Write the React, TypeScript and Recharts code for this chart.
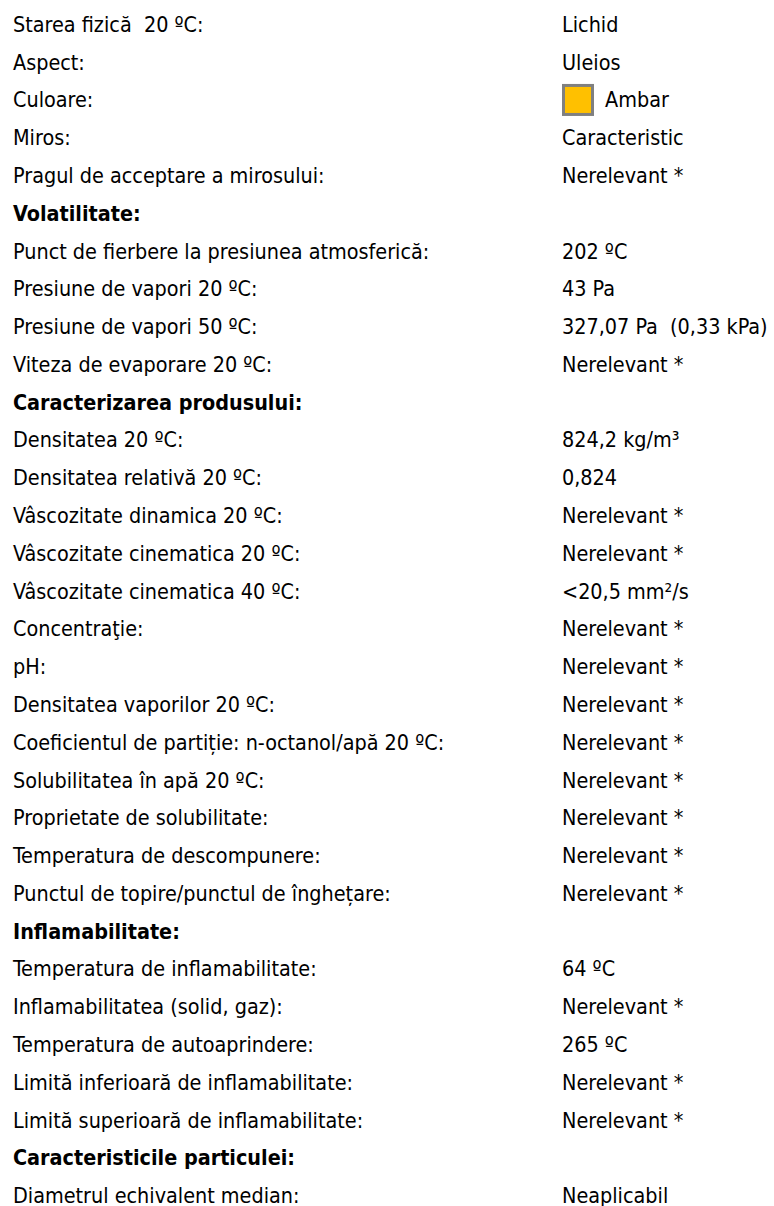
import { ComposedChart, Bar, XAxis, YAxis } from "recharts";

// properties sheet - left column labels, right column values
const labels = [
  "Starea fizică  20 ºC:",
  "Aspect:",
  "Culoare:",
  "Miros:",
  "Pragul de acceptare a mirosului:",
  "Volatilitate:",
  "Punct de fierbere la presiunea atmosferică:",
  "Presiune de vapori 20 ºC:",
  "Presiune de vapori 50 ºC:",
  "Viteza de evaporare 20 ºC:",
  "Caracterizarea produsului:",
  "Densitatea 20 ºC:",
  "Densitatea relativă 20 ºC:",
  "Vâscozitate dinamica 20 ºC:",
  "Vâscozitate cinematica 20 ºC:",
  "Vâscozitate cinematica 40 ºC:",
  "Concentraţie:",
  "pH:",
  "Densitatea vaporilor 20 ºC:",
  "Coeficientul de partiție: n-octanol/apă 20 ºC:",
  "Solubilitatea în apă 20 ºC:",
  "Proprietate de solubilitate:",
  "Temperatura de descompunere:",
  "Punctul de topire/punctul de înghețare:",
  "Inflamabilitate:",
  "Temperatura de inflamabilitate:",
  "Inflamabilitatea (solid, gaz):",
  "Temperatura de autoaprindere:",
  "Limită inferioară de inflamabilitate:",
  "Limită superioară de inflamabilitate:",
  "Caracteristicile particulei:",
  "Diametrul echivalent median:",
];

const values = [
  "Lichid",
  "Uleios",
  "Ambar",
  "Caracteristic",
  "Nerelevant *",
  "",
  "202 ºC",
  "43 Pa",
  "327,07 Pa  (0,33 kPa)",
  "Nerelevant *",
  "",
  "824,2 kg/m³",
  "0,824",
  "Nerelevant *",
  "Nerelevant *",
  "<20,5 mm²/s",
  "Nerelevant *",
  "Nerelevant *",
  "Nerelevant *",
  "Nerelevant *",
  "Nerelevant *",
  "Nerelevant *",
  "Nerelevant *",
  "Nerelevant *",
  "",
  "64 ºC",
  "Nerelevant *",
  "265 ºC",
  "Nerelevant *",
  "Nerelevant *",
  "",
  "Neaplicabil",
];

const headers = ["Volatilitate:", "Caracterizarea produsului:", "Inflamabilitate:", "Caracteristicile particulei:"];
const swatches: Record<string, string> = { "Culoare:": "#FFC000" };

const data = labels.map((label, i) => ({ label, value: values[i], bar: 0 }));

const FONT = "'DejaVu Sans Condensed', 'DejaVu Sans', sans-serif";

function RowTick(props: any) {
  const { y, payload } = props;
  const label = payload.value as string;
  const i = labels.indexOf(label);
  const val = values[i];
  const bold = headers.includes(label);
  const swatch = swatches[label];
  return (
    <g>
      <text x={13} y={y + 8} fill="#000" fontSize={21.4} fontFamily={FONT} fontWeight={bold ? 700 : 400}
        style={{ whiteSpace: "pre" }}>
        {label}
      </text>
      {swatch && (
        <rect x={563.5} y={y - 14} width={29} height={29} fill={swatch} stroke="#808080" strokeWidth={3} />
      )}
      {val && (
        <text x={swatch ? 605 : 562} y={y + 8} fill="#000" fontSize={21.4} fontFamily={FONT}
          style={{ whiteSpace: "pre" }}>
          {val}
        </text>
      )}
    </g>
  );
}

export default function App() {
  return (
    <div style={{ position: "absolute", left: 0, top: 0, width: 774, height: 1206, overflow: "hidden", background: "#fff" }}>
      <ComposedChart layout="vertical" width={774} height={1216} data={data}
        margin={{ top: 5, right: 0, bottom: 2, left: 0 }}>
        <XAxis type="number" hide domain={[0, 1]} />
        <YAxis type="category" dataKey="label" width={20} interval={0}
          axisLine={false} tickLine={false} tick={<RowTick />} />
        <Bar dataKey="bar" fill="transparent" isAnimationActive={false} />
      </ComposedChart>
    </div>
  );
}
